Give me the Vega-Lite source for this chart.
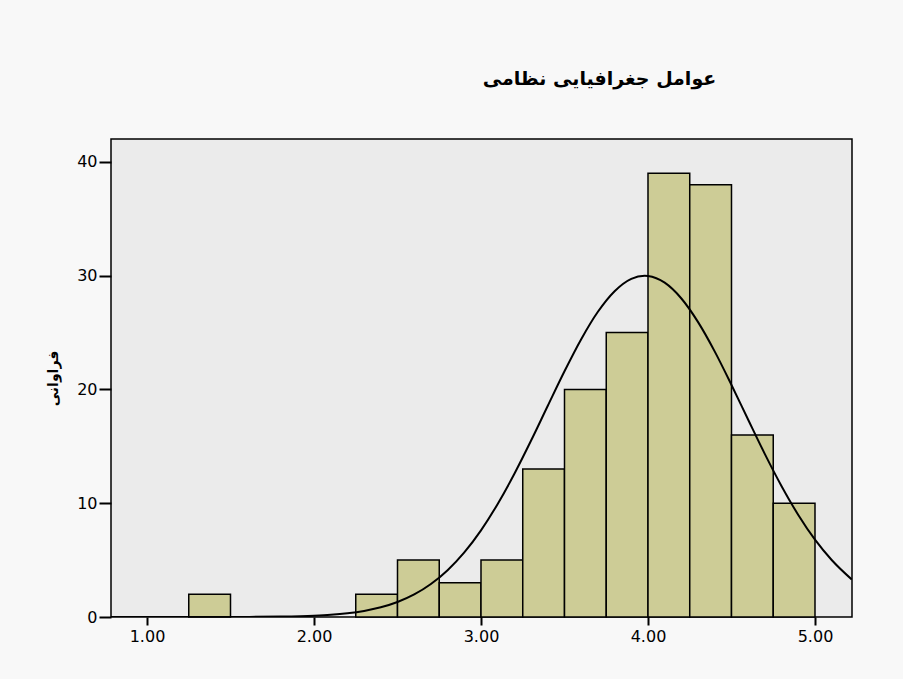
{
  "$schema": "https://vega.github.io/schema/vega-lite/v6.json",
  "width": 741,
  "height": 478,
  "autosize": {"type": "none"},
  "padding": {"left": 111, "top": 139, "right": 51, "bottom": 62},
  "background": "#f8f8f8",
  "title": {
    "text": "عوامل جغرافیایی نظامی",
    "font": "DejaVu Sans",
    "fontSize": 19,
    "fontWeight": "bold",
    "color": "black",
    "anchor": "middle",
    "dx": 118,
    "offset": 50
  },
  "config": {
    "view": {"fill": "#ebebeb", "stroke": "black", "strokeWidth": 1.5}
  },
  "datasets": {
    "bins": [
      {"bin_start": 1.25, "bin_end": 1.5, "count": 2},
      {"bin_start": 2.25, "bin_end": 2.5, "count": 2},
      {"bin_start": 2.5, "bin_end": 2.75, "count": 5},
      {"bin_start": 2.75, "bin_end": 3.0, "count": 3},
      {"bin_start": 3.0, "bin_end": 3.25, "count": 5},
      {"bin_start": 3.25, "bin_end": 3.5, "count": 13},
      {"bin_start": 3.5, "bin_end": 3.75, "count": 20},
      {"bin_start": 3.75, "bin_end": 4.0, "count": 25},
      {"bin_start": 4.0, "bin_end": 4.25, "count": 39},
      {"bin_start": 4.25, "bin_end": 4.5, "count": 38},
      {"bin_start": 4.5, "bin_end": 4.75, "count": 16},
      {"bin_start": 4.75, "bin_end": 5.0, "count": 10}
    ],
    "curve": [
      {"x": 0.78, "y": 0.0},
      {"x": 1.0, "y": 0.0001},
      {"x": 1.2, "y": 0.0005},
      {"x": 1.4, "y": 0.002},
      {"x": 1.6, "y": 0.009},
      {"x": 1.8, "y": 0.034},
      {"x": 2.0, "y": 0.112},
      {"x": 2.1, "y": 0.194},
      {"x": 2.2, "y": 0.327},
      {"x": 2.3, "y": 0.536},
      {"x": 2.4, "y": 0.852},
      {"x": 2.5, "y": 1.318},
      {"x": 2.6, "y": 1.982},
      {"x": 2.7, "y": 2.899},
      {"x": 2.8, "y": 4.117},
      {"x": 2.9, "y": 5.683},
      {"x": 3.0, "y": 7.62},
      {"x": 3.1, "y": 9.94},
      {"x": 3.2, "y": 12.59},
      {"x": 3.3, "y": 15.51},
      {"x": 3.4, "y": 18.57},
      {"x": 3.5, "y": 21.6},
      {"x": 3.6, "y": 24.42},
      {"x": 3.7, "y": 26.83},
      {"x": 3.8, "y": 28.64},
      {"x": 3.9, "y": 29.73},
      {"x": 3.98, "y": 30.0},
      {"x": 4.0, "y": 29.98},
      {"x": 4.1, "y": 29.39},
      {"x": 4.2, "y": 28.0},
      {"x": 4.3, "y": 25.92},
      {"x": 4.4, "y": 23.33},
      {"x": 4.5, "y": 20.4},
      {"x": 4.6, "y": 17.34},
      {"x": 4.7, "y": 14.32},
      {"x": 4.8, "y": 11.5},
      {"x": 4.9, "y": 8.97},
      {"x": 5.0, "y": 6.8},
      {"x": 5.1, "y": 5.01},
      {"x": 5.22, "y": 3.3}
    ]
  },
  "layer": [
    {
      "data": {"name": "bins"},
      "mark": {"type": "rect", "fill": "#cdcc96", "stroke": "black", "strokeWidth": 1.5},
      "encoding": {
        "x": {
          "field": "bin_start",
          "type": "quantitative",
          "scale": {"domain": [0.7844, 5.2216], "nice": false, "zero": false},
          "axis": {
            "values": [1, 2, 3, 4, 5],
            "format": ".2f",
            "title": null,
            "grid": false,
            "domain": false,
            "tickColor": "black",
            "tickSize": 8,
            "tickWidth": 2,
            "labelFont": "DejaVu Sans",
            "labelFontSize": 16,
            "labelColor": "black",
            "labelPadding": 3
          }
        },
        "x2": {"field": "bin_end"},
        "y": {
          "field": "count",
          "type": "quantitative",
          "scale": {"domain": [0, 42.02], "nice": false},
          "axis": {
            "values": [0, 10, 20, 30, 40],
            "title": "فراوانی",
            "titleFont": "DejaVu Sans",
            "titleFontSize": 14,
            "titleFontWeight": "bold",
            "titleColor": "black",
            "titlePadding": 16,
            "grid": false,
            "domain": false,
            "tickColor": "black",
            "tickSize": 12,
            "tickWidth": 2,
            "labelFont": "DejaVu Sans",
            "labelFontSize": 16,
            "labelColor": "black",
            "labelPadding": 2
          }
        },
        "y2": {"datum": 0}
      }
    },
    {
      "data": {"name": "curve"},
      "mark": {"type": "line", "color": "black", "strokeWidth": 2, "clip": true, "interpolate": "monotone"},
      "encoding": {
        "x": {"field": "x", "type": "quantitative"},
        "y": {"field": "y", "type": "quantitative"}
      }
    }
  ]
}
